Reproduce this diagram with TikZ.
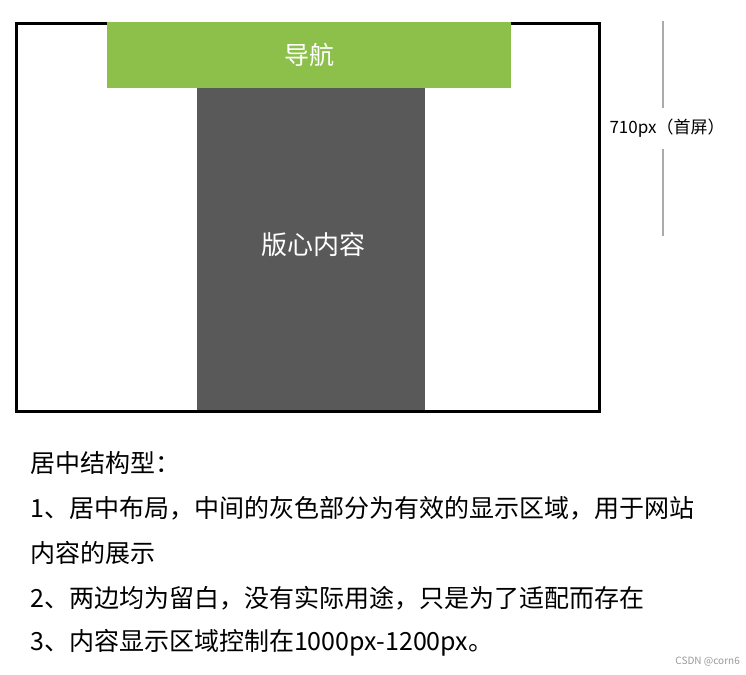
\documentclass[tikz,border=0pt]{standalone}
\usepackage{fontspec}
\setmainfont{Noto Sans CJK SC}
\newfontfamily\cjk{Noto Sans CJK SC}
\definecolor{navgreen}{HTML}{8DC04B}
\definecolor{coregray}{HTML}{595959}
\definecolor{dimgray}{HTML}{ABABAB}
\begin{document}
\begin{tikzpicture}[x=1pt,y=-1pt,
  boxtext/.style={text=white,font=\cjk\fontsize{25}{28}\selectfont,inner sep=0pt},
  bodytext/.style={anchor=west,inner sep=0pt,font=\cjk\fontsize{25}{28}\selectfont,text=black},
  dimline/.style={draw=dimgray,line width=1.6pt}]
\useasboundingbox (0,0) rectangle (746,674);
\fill[white] (0,0) rectangle (746,674);
% outer screen frame
\node[draw=black,line width=3pt,minimum width=583pt,minimum height=388pt,inner sep=0pt,anchor=north west] (frame) at (15,22) {};
% core content
\node[fill=coregray,minimum width=228pt,minimum height=323pt,inner sep=0pt,anchor=north west] (core) at (197,87) {};
% navigation bar
\node[fill=navgreen,minimum width=404pt,minimum height=66pt,inner sep=0pt,anchor=north west] (nav) at (107,21.5) {};
\node[boxtext] (navlabel) at (nav.center) {导航};
\node[boxtext,font=\cjk\fontsize{26}{28}\selectfont] (corelabel) at (313,245) {版心内容};
% dimension
\node[inner sep=0pt,font=\cjk\fontsize{17}{20}\selectfont] (dim) at (667,128) {710px（首屏）};
\coordinate (dtop) at (663,21);
\coordinate (dbot) at (663,236);
\draw[dimline] (dtop) -- (663,108);
\draw[dimline] (663,149) -- (dbot);
% explanation text
\node[bodytext] (t0) at (30,463) {居中结构型：};
\node[bodytext] (t1) at (30,508) {1、居中布局，中间的灰色部分为有效的显示区域，用于网站};
\node[bodytext] (t2) at (30,553) {内容的展示};
\node[bodytext] (t3) at (30,598) {2、两边均为留白，没有实际用途，只是为了适配而存在};
\node[bodytext] (t4) at (30,643) {3、内容显示区域控制在1000px-1200px。};
\node[inner sep=0pt,anchor=east,font=\fontsize{10}{12}\selectfont,text=gray!80] (wm) at (740,662) {CSDN @corn6};
\end{tikzpicture}
\end{document}
